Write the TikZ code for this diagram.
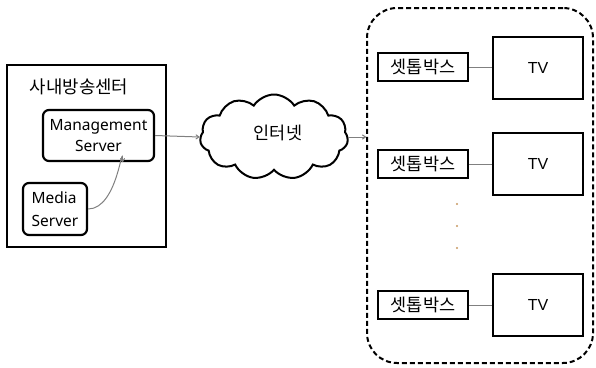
\documentclass[tikz,border=0pt]{standalone}
\usepackage{fontspec}
\setmainfont{Noto Sans}
\newfontfamily\kr{Noto Sans CJK KR}
\newfontfamily\arl{Liberation Sans}
\usetikzlibrary{shapes.symbols,arrows.meta}
\definecolor{arrgray}{rgb}{0.5,0.5,0.5}
\definecolor{dotc}{rgb}{0.78,0.6,0.38}
\tikzset{
  thickbox/.style={draw=black,line width=2.2pt,inner sep=0pt},
  roundbox/.style={thickbox,rounded corners=6pt,align=center,font=\fontsize{15.5}{21}\selectfont},
  stbbox/.style={thickbox,minimum width=90pt,minimum height=28pt,font=\kr\fontsize{17.5}{18}\selectfont},
  tvbox/.style={thickbox,line width=2pt,minimum width=90pt,minimum height=62pt,font=\arl\fontsize{16}{18}\selectfont},
  link/.style={draw=arrgray,line width=1pt},
  arr/.style={draw=arrgray,line width=1pt,-{To[length=4pt,width=5pt]}},
  ellips/.style={fill=dotc,circle,inner sep=0pt,minimum size=2.4pt}
}
\begin{document}
\begin{tikzpicture}[x=1pt,y=-1pt]
\useasboundingbox (0,0) rectangle (596,367);
% left centre box
\node[thickbox,minimum width=159pt,minimum height=182pt] (centre) at (86.5,156) {};
\node[font=\kr\fontsize{17.8}{18}\selectfont] (title) at (79,87) {사내방송센터};
\node[roundbox,minimum width=111pt,minimum height=51pt] (mgmt) at (98.5,135.5) {Management\\Server};
\node[roundbox,minimum width=64pt,minimum height=52pt,align=left,font=\fontsize{15.5}{23}\selectfont] (media) at (55,209) {Media\\Server};
% cloud
\node[cloud,draw=black,line width=2pt,cloud puffs=11,cloud puff arc=115,aspect=1.75,minimum width=148pt,minimum height=85pt,inner sep=0pt] (net) at (274,137) {};
\node[font=\kr\fontsize{17.5}{18}\selectfont] (nettext) at (278,133) {인터넷};
% dashed box
\node[draw=black,line width=2pt,dash pattern=on 5pt off 3pt,rounded corners=30pt,minimum width=226pt,minimum height=355pt] (homes) at (480,185.5) {};
% STBs and TVs
\node[stbbox] (stb1) at (423,67) {셋톱박스};
\node[stbbox] (stb2) at (423,164) {셋톱박스};
\node[stbbox] (stb3) at (423,305) {셋톱박스};
\node[tvbox] (tv1) at (538,68) {TV};
\node[tvbox] (tv2) at (538,164) {TV};
\node[tvbox] (tv3) at (538,305) {TV};
\draw[link] (stb1) -- (tv1.west |- stb1.east);
\draw[link] (stb2) -- (tv2);
\draw[link] (stb3) -- (tv3);
\node[ellips] (d1) at (457,204) {};
\node[ellips] (d2) at (457,226) {};
\node[ellips] (d3) at (457,248) {};
% arrows
\draw[arr] (media.east) .. controls ([xshift=30pt]media.east) and ([xshift=24pt,yshift=25pt]mgmt.south) .. ([xshift=24pt]mgmt.south);
\draw[arr] (mgmt.east) -- (net.west);
\draw[arr] (net.east) -- (homes.west |- net.east);
\end{tikzpicture}
\end{document}
